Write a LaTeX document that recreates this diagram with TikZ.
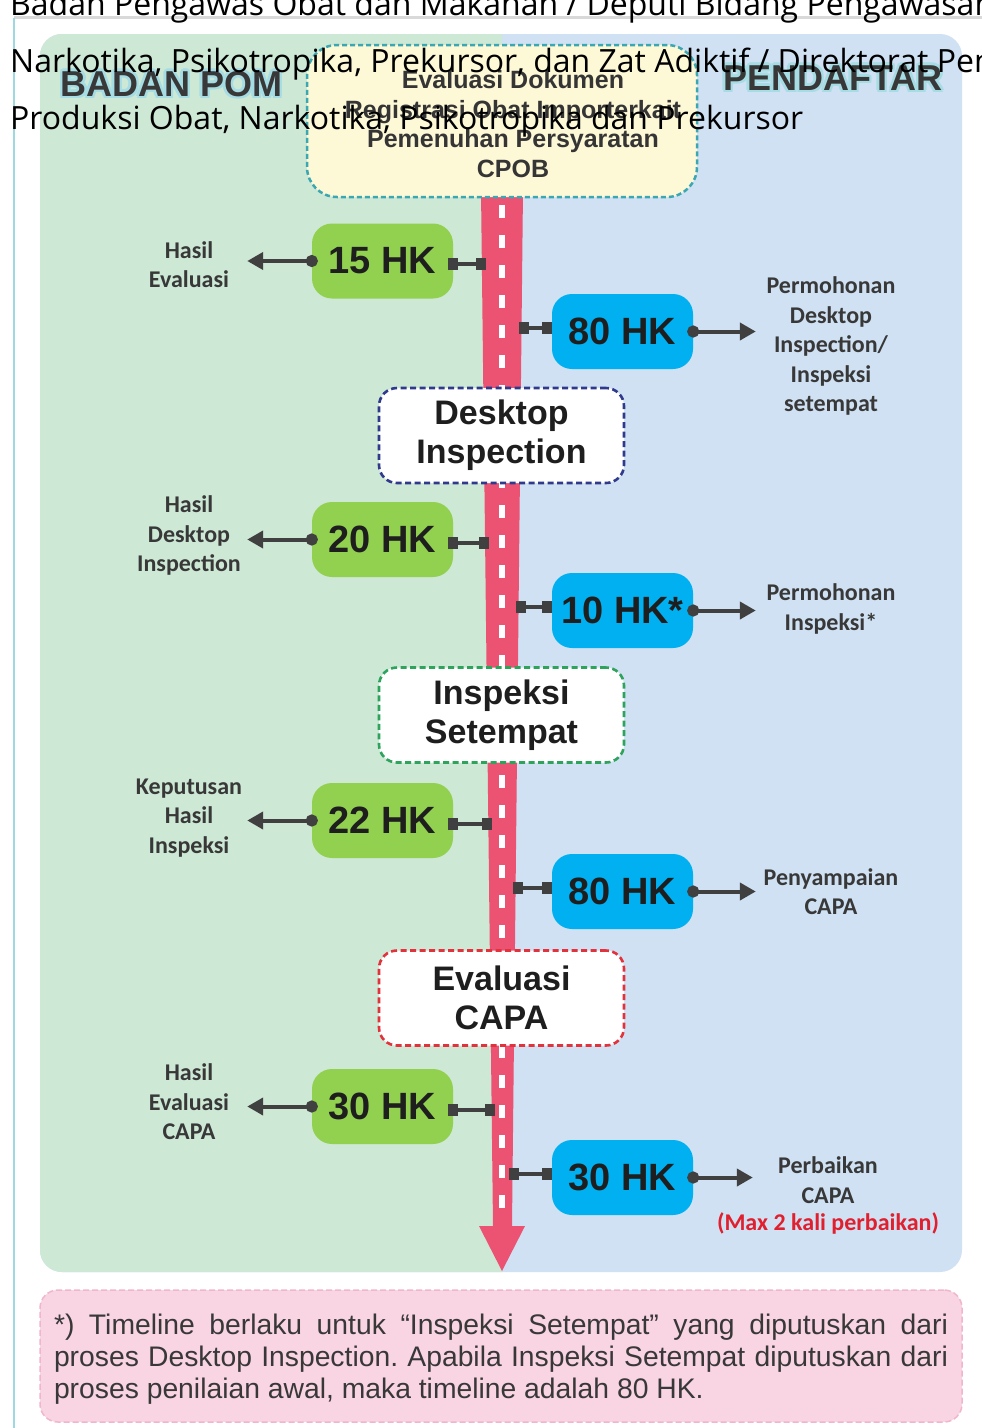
\documentclass[tikz,border=0pt]{standalone}
\usepackage{fontspec}
\setmainfont{Liberation Sans}
\newfontfamily\capfont{Open Sans}
\newfontfamily\lblfont{Carlito}
\usetikzlibrary{arrows.meta,positioning}

\definecolor{bggreen}{HTML}{CDE8D5}
\definecolor{bgblue}{HTML}{CFE1F3}
\definecolor{hkgreen}{HTML}{92D050}
\definecolor{hkblue}{HTML}{00B0F0}
\definecolor{roadred}{HTML}{EC5272}
\definecolor{linkgray}{HTML}{404040}
\definecolor{txtdark}{HTML}{1E1E1E}
\definecolor{lbldark}{HTML}{383838}
\definecolor{cpobfill}{HTML}{FDF8D6}
\definecolor{cpobline}{HTML}{3AA7B3}
\definecolor{dinavy}{HTML}{2F3A8C}
\definecolor{isgreen}{HTML}{2DA35C}
\definecolor{ecred}{HTML}{E2323C}
\definecolor{notefill}{HTML}{F9D4E2}
\definecolor{noteline}{HTML}{F0B6CB}
\definecolor{glowcyan}{HTML}{A6DDE4}
\definecolor{maxred}{HTML}{E0202E}
\definecolor{frameline}{HTML}{9ED8E0}

\tikzset{
  hk/.style={fill=#1, rounded corners=20pt, minimum width=141pt, minimum height=75pt, inner sep=0pt,
    font=\bfseries\fontsize{38}{40}\selectfont, text=txtdark,
    append after command={[fill=#1, sharp corners]
      (\tikzlastnode.north west) rectangle ([xshift=20pt,yshift=-20pt]\tikzlastnode.north west)
      (\tikzlastnode.south east) rectangle ([xshift=-20pt,yshift=20pt]\tikzlastnode.south east)}},
  stage/.style={draw=#1, fill=white, line width=2.6pt, dash pattern=on 6pt off 3.5pt, rounded corners=18pt,
    minimum width=245pt, minimum height=95pt, align=center, inner sep=0pt,
    font=\bfseries\fontsize{34}{39}\selectfont, text=txtdark},
  lbl/.style={font=\lblfont\bfseries\fontsize{24}{29.5}\selectfont, text=lbldark, align=center, inner sep=0pt},
  lbll/.style={lbl, text width=116pt},
  lblr/.style={lbl, text width=150pt},
  link/.style={draw=linkgray, line width=4pt, {Square[length=10pt,width=12pt]}-{Square[length=10pt,width=12pt]}},
  outarrow/.style={draw=linkgray, line width=4pt, {Circle[length=12pt]}-{Triangle[length=16pt,width=17pt]}, shorten <=-6pt},
  headtext/.style={font=\bfseries\fontsize{36}{36}\selectfont, inner sep=0pt},
  capline/.style={font=\capfont\fontsize{32}{32}\selectfont, inner sep=0pt, text=black, anchor=base west}
}

\begin{document}
\begin{tikzpicture}[x=1pt,y=-1pt]
\useasboundingbox[fill=white] (0,0) rectangle (982,1428);

\draw[gray!30, line width=3pt] (14,17.5) -- (982,17.5);
\draw[frameline, line width=2.5pt] (14,1428) -- (14,18);

\fill[bgblue, rounded corners=22pt] (40,34) rectangle (962,1272);
\begin{scope}
\clip (0,0) rectangle (502,1428);
\fill[bggreen, rounded corners=22pt] (40,34) rectangle (962,1272);
\end{scope}

\fill[roadred] (481,190) -- (523,190) -- (512,1226) -- (525,1226) -- (502,1271) -- (479,1226) -- (493,1226) -- cycle;
\draw[white, line width=6.5pt, dash pattern=on 13pt off 17pt] (502,205) -- (502,1222);

\node (cpob) [draw=cpobline, fill=cpobfill, line width=2.5pt, dash pattern=on 5pt off 3pt, rounded corners=30pt,
  minimum width=390pt, minimum height=152pt] at (502,121) {};
\node (cpobtext) [align=center, inner sep=0pt, font=\bfseries\fontsize{25}{29.5}\selectfont, text=txtdark!90] at (513,124)
  {Evaluasi Dokumen\\Registrasi Obat Importerkait\\Pemenuhan Persyaratan\\CPOB};

\foreach \a in {0,45,...,315} {
  \node (bpglow\a) [headtext, text=glowcyan, shift={(\a:2.5)}] at (171.5,84) {BADAN POM};
  \node (pdglow\a) [headtext, text=glowcyan, shift={(\a:2.5)}] at (833,78) {PENDAFTAR};
}
\node (badanpom) [headtext, text=lbldark] at (171.5,84) {BADAN POM};
\node (pendaftar) [headtext, text=lbldark] at (833,78) {PENDAFTAR};

\node (di) [stage=dinavy] at (501.5,435.5) {Desktop\\Inspection};
\node (is) [stage=isgreen] at (501.5,715) {Inspeksi\\Setempat};
\node (ec) [stage=ecred] at (501.5,998) {Evaluasi\\CAPA};

\node (g1) [hk=hkgreen] at (382.5,261) {15 HK};
\node (b1) [hk=hkblue] at (622.5,331.5) {80 HK};
\node (g2) [hk=hkgreen] at (382.5,539.5) {20 HK};
\node (b2) [hk=hkblue] at (622.5,610.5) {10 HK*};
\node (g3) [hk=hkgreen] at (382.5,820.5) {22 HK};
\node (b3) [hk=hkblue] at (622.5,891.5) {80 HK};
\node (g4) [hk=hkgreen] at (382.5,1106.5) {30 HK};
\node (b4) [hk=hkblue] at (622.5,1177.5) {30 HK};

\coordinate (rg1) at (486,264);
\coordinate (rb1) at (519,328);
\coordinate (rg2) at (489,542.5);
\coordinate (rb2) at (516,607);
\coordinate (rg3) at (492,823.5);
\coordinate (rb3) at (513,888);
\coordinate (rg4) at (495,1109.5);
\coordinate (rb4) at (509,1174);

\node (h1) [lbll] at (189,264.5) {Hasil\\Evaluasi};
\node (h2) [lbll] at (189,535.5) {Hasil\\Desktop\\Inspection};
\node (h3) [lbll] at (189,818) {Keputusan\\Hasil\\Inspeksi};
\node (h4) [lbll] at (189,1102) {Hasil\\Evaluasi\\CAPA};
\node (p1) [lblr] at (831,346) {Permohonan\\Desktop\\Inspection/\\Inspeksi\\setempat};
\node (p2) [lblr] at (831,609) {Permohonan\\Inspeksi*};
\node (p3) [lblr] at (831,891.5) {Penyampaian\\CAPA};
\node (p4) [lblr] at (828,1180) {Perbaikan\\CAPA};
\node (maxfix) [lbl, text=maxred, below=9pt of p4] {(Max 2 kali perbaikan)};

\draw[link, shorten <=-5pt] (g1.east |- rg1) -- (rg1);
\draw[link, shorten <=-5pt] (g2.east |- rg2) -- (rg2);
\draw[link, shorten <=-5pt] (g3.east |- rg3) -- (rg3);
\draw[link, shorten <=-5pt] (g4.east |- rg4) -- (rg4);
\draw[link] (rb1) -- (b1.west |- rb1);
\draw[link] (rb2) -- (b2.west |- rb2);
\draw[link] (rb3) -- (b3.west |- rb3);
\draw[link] (rb4) -- (b4.west |- rb4);

\draw[outarrow] (g1.west) -- (g1.west -| h1.east);
\draw[outarrow] (g2.west) -- (g2.west -| h2.east);
\draw[outarrow] (g3.west) -- (g3.west -| h3.east);
\draw[outarrow] (g4.west) -- (g4.west -| h4.east);
\draw[outarrow] (b1.east) -- (b1.east -| p1.west);
\draw[outarrow] (b2.east) -- (b2.east -| p2.west);
\draw[outarrow] (b3.east) -- (b3.east -| p3.west);
\draw[outarrow] (b4.east) -- (b4.east -| p4.west);

\node (note) [draw=noteline, fill=notefill, line width=1.5pt, dash pattern=on 6pt off 3pt, rounded corners=18pt,
  minimum width=922pt, minimum height=132pt] at (501,1356) {};
\node (notetext) [inner sep=0pt, text width=894pt, align=justify,
  font=\fontsize{28.3}{32}\selectfont\frenchspacing, text=lbldark] at (501,1359)
  {*) Timeline berlaku untuk “Inspeksi Setempat” yang diputuskan dari\linebreak
   proses Desktop Inspection. Apabila Inspeksi Setempat diputuskan dari\linebreak
   proses penilaian awal, maka timeline adalah 80 HK.};

\node (cap1) [capline] at (10,15) {Badan Pengawas Obat dan Makanan / Deputi Bidang Pengawasan};
\node (cap2) [capline] at (10,72.5) {Narkotika, Psikotropika, Prekursor, dan Zat Adiktif / Direktorat Pengawasan};
\node (cap3) [capline] at (10,129.5) {Produksi Obat, Narkotika, Psikotropika dan Prekursor};
\end{tikzpicture}
\end{document}
